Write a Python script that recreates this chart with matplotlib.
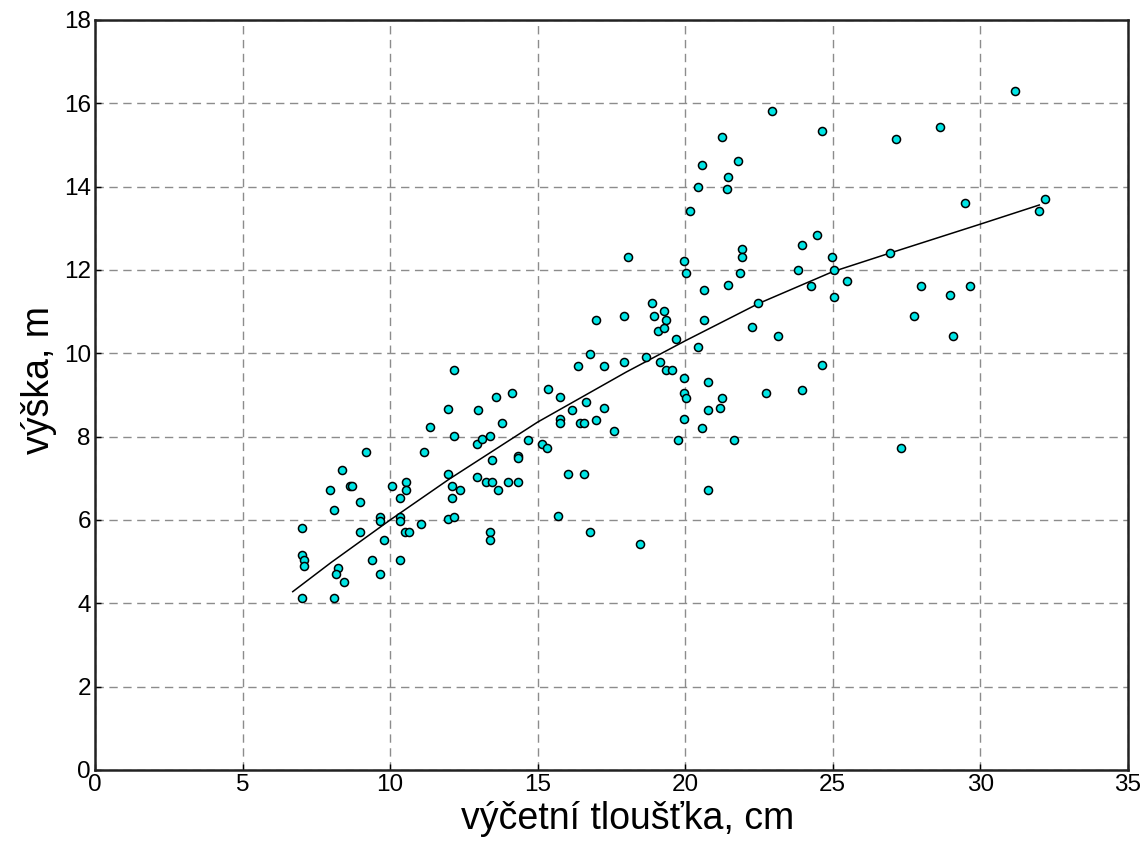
import numpy as np
import matplotlib.pyplot as plt

plt.rcParams['font.family'] = ['Liberation Sans', 'DejaVu Sans']

# measured trees: diameter at breast height (cm) and height (m)
d = [7.01, 7.01, 7.08, 7.08, 7.01, 7.96, 8.37, 8.10, 8.64, 8.71,
     8.23, 8.17, 8.44, 8.10, 8.98, 9.18, 8.98, 9.39, 9.66, 9.66,
     9.79, 9.66, 10.06, 10.34, 10.34, 10.34, 10.34, 10.54, 10.54, 10.50,
     10.64, 11.05, 11.15, 11.35, 11.96, 11.96, 11.96, 12.17, 12.10, 12.10,
     12.17, 12.17, 12.37, 12.94, 12.94, 12.98, 13.11, 13.39, 13.25, 13.45,
     13.66, 13.45, 13.59, 13.79, 14.00, 14.13, 14.33, 14.33, 14.33, 13.39,
     13.39, 14.67, 15.15, 15.32, 15.35, 15.76, 15.76, 15.76, 15.69, 16.03,
     16.17, 16.37, 16.44, 16.57, 16.57, 16.64, 16.77, 16.77, 16.98, 16.98,
     17.25, 17.25, 17.59, 17.93, 17.93, 18.06, 18.47, 18.67, 18.87, 18.94,
     19.08, 19.15, 19.29, 19.35, 19.29, 19.35, 19.55, 19.69, 19.76, 19.96,
     20.03, 19.96, 19.96, 20.03, 19.96, 20.16, 20.43, 20.43, 20.57, 20.57,
     20.64, 20.64, 20.77, 20.77, 20.77, 21.18, 21.25, 21.25, 21.42, 21.45,
     21.45, 21.65, 21.79, 21.86, 21.92, 21.92, 22.26, 22.47, 22.74, 22.94,
     23.14, 23.82, 23.96, 23.96, 24.26, 24.47, 24.64, 24.64, 24.97, 25.04,
     25.04, 25.48, 26.94, 27.14, 27.32, 27.75, 27.99, 28.63, 28.97, 29.07,
     29.48, 29.65, 31.18, 31.99, 32.19]
h = [5.81, 5.16, 5.04, 4.90, 4.13, 6.72, 7.20, 6.24, 6.82, 6.82,
     4.85, 4.70, 4.51, 4.13, 6.43, 7.63, 5.71, 5.04, 6.07, 5.98,
     5.52, 4.70, 6.82, 6.53, 6.07, 5.98, 5.04, 6.91, 6.72, 5.71,
     5.71, 5.90, 7.63, 8.23, 7.10, 8.66, 6.02, 6.07, 6.82, 6.53,
     8.02, 9.60, 6.72, 7.82, 7.03, 8.64, 7.94, 8.02, 6.91, 6.91,
     6.72, 7.44, 8.95, 8.33, 6.91, 9.05, 7.54, 7.49, 6.91, 5.71,
     5.52, 7.92, 7.82, 7.73, 9.14, 8.95, 8.42, 8.33, 6.10, 7.10,
     8.64, 9.70, 8.33, 8.33, 7.10, 8.83, 5.71, 9.98, 10.80, 8.40,
     9.70, 8.69, 8.14, 9.79, 10.90, 12.31, 5.42, 9.91, 11.21, 10.90,
     10.54, 9.79, 11.02, 10.80, 10.61, 9.60, 9.60, 10.34, 7.92, 12.21,
     11.93, 9.41, 9.05, 8.93, 8.42, 13.41, 13.99, 10.15, 14.52, 8.21,
     11.52, 10.80, 9.31, 8.64, 6.72, 8.69, 8.93, 15.19, 13.94, 14.23,
     11.64, 7.92, 14.62, 11.93, 12.50, 12.31, 10.63, 11.21, 9.05, 15.82,
     10.42, 12.00, 12.60, 9.12, 11.62, 12.84, 15.33, 9.72, 12.31, 12.00,
     11.35, 11.74, 12.41, 15.14, 7.73, 10.90, 11.62, 15.43, 11.40, 10.42,
     13.61, 11.62, 16.29, 13.41, 13.70]

# height curve fitted to the measurements
curve_d = [6.7, 8, 10, 12, 15, 18, 20, 22.5, 25, 27, 30, 32]
curve_h = [4.28, 4.98, 6.0, 6.98, 8.35, 9.55, 10.3, 11.2, 11.96, 12.42, 13.1, 13.56]

fig = plt.figure(figsize=(11.45, 8.51), dpi=100)
ax = fig.add_axes([0.083, 0.0952, 0.902, 0.8813])

ax.grid(True, color='#8c8c8c', linestyle=(0, (6, 4)), linewidth=1.0)
ax.set_axisbelow(True)

ax.plot(curve_d, curve_h, color='black', linewidth=1.1, zorder=2)
ax.plot(d, h, linestyle='none', marker='o', markersize=5.8,
        markerfacecolor='#00e5e5', markeredgecolor='black',
        markeredgewidth=1.1, zorder=3)

ax.set_xlim(0, 35)
ax.set_ylim(0, 18)
ax.set_xticks(np.arange(0, 36, 5))
ax.set_yticks(np.arange(0, 19, 2))
ax.tick_params(direction='in', length=4, width=1, labelsize=17.5, pad=3,
               colors='black')

for s in ax.spines.values():
    s.set_linewidth(1.8)
    s.set_color('#222222')

ax.set_xlabel('výčetní tloušťka, cm', fontsize=27)
ax.set_ylabel('výška, m', fontsize=27)
ax.xaxis.set_label_coords(0.516, -0.041)
ax.yaxis.set_label_coords(-0.037, 0.52)

fig.savefig('out.png', dpi=100)
